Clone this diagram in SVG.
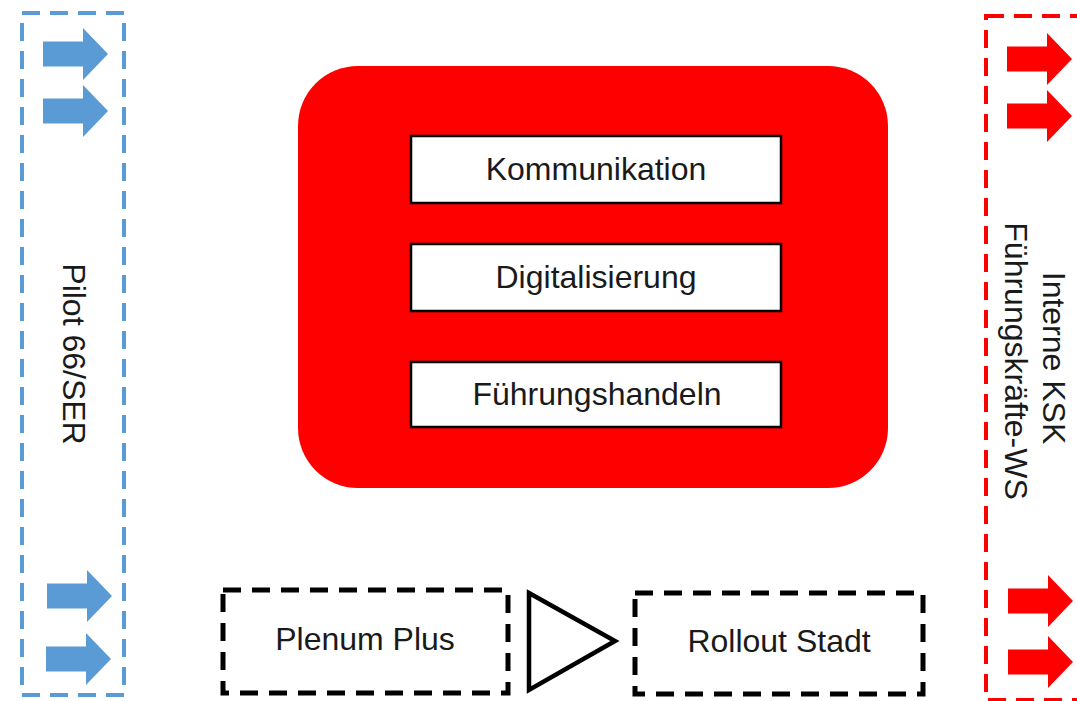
<svg xmlns="http://www.w3.org/2000/svg" width="1077" height="701" viewBox="0 0 1077 701">
  <style>
    .t { font-family: "Liberation Sans", Arial, sans-serif; font-size: 32px; fill: #1a1a1a; }
    .mid { text-anchor: middle; }
    .box { fill: #ffffff; stroke: #000000; stroke-width: 2.5; }
    .dashk { fill: none; stroke: #000000; stroke-width: 5; stroke-dasharray: 18 11; }
    .dashb { fill: none; stroke: #5B9BD5; stroke-width: 4; stroke-dasharray: 18 10; }
    .dashr { fill: none; stroke: #FF0000; stroke-width: 4; stroke-dasharray: 18 10; }
    .blue { fill: #5B9BD5; }
    .red { fill: #FF0000; }
  </style>
  <defs>
    <path id="arrow" d="M0,-12.5 L40,-12.5 L40,-26 L65,0 L40,26 L40,12.5 L0,12.5 Z"/>
  </defs>
  <rect width="1077" height="701" fill="#ffffff"/>

  <g id="pilot">
    <rect class="dashb" x="22" y="13" width="102" height="682"/>
    <use href="#arrow" class="blue" x="43" y="54"/>
    <use href="#arrow" class="blue" x="43" y="111"/>
    <use href="#arrow" class="blue" x="47" y="596"/>
    <use href="#arrow" class="blue" x="46" y="659"/>
    <text class="t mid" transform="translate(63,354) rotate(90)">Pilot 66/SER</text>
  </g>

  <g id="interne">
    <rect class="dashr" x="986" y="16" width="130" height="684"/>
    <use href="#arrow" class="red" x="1007" y="59"/>
    <use href="#arrow" class="red" x="1007" y="116"/>
    <use href="#arrow" class="red" x="1008" y="601"/>
    <use href="#arrow" class="red" x="1008" y="662"/>
    <text class="t mid" transform="translate(1043,358) rotate(90)">Interne KSK</text>
    <text class="t mid" transform="translate(1005,361) rotate(90)">Führungskräfte-WS</text>
  </g>

  <g id="kern">
    <rect x="298" y="66" width="590" height="422" rx="60" ry="60" fill="#FF0000"/>
  </g>

  <g id="kommunikation">
    <rect class="box" x="411" y="136" width="370" height="67"/>
    <text class="t mid" x="596" y="180">Kommunikation</text>
  </g>

  <g id="digitalisierung">
    <rect class="box" x="411" y="244" width="370" height="67"/>
    <text class="t mid" x="596" y="288">Digitalisierung</text>
  </g>

  <g id="fuehrungshandeln">
    <rect class="box" x="411" y="362" width="370" height="65"/>
    <text class="t mid" x="597" y="405">Führungshandeln</text>
  </g>

  <g id="plenum">
    <rect class="dashk" x="223" y="590" width="285" height="103"/>
    <text class="t mid" x="365" y="650">Plenum Plus</text>
  </g>

  <g id="rollout">
    <rect class="dashk" x="635" y="593" width="288" height="101"/>
    <text class="t mid" x="779" y="652">Rollout Stadt</text>
  </g>

  <g id="connectors">
    <polygon points="529,593 615,641 529,690" fill="#ffffff" stroke="#000000" stroke-width="4.5" stroke-linejoin="miter"/>
  </g>
</svg>
